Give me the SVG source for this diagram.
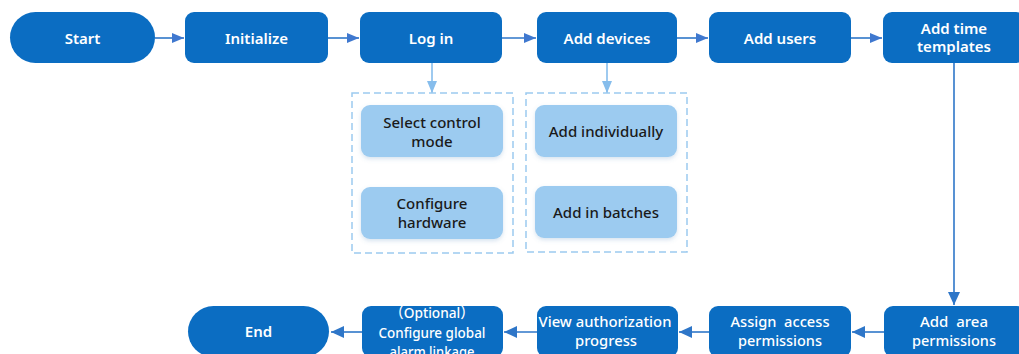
<svg xmlns="http://www.w3.org/2000/svg" width="1019" height="354" viewBox="0 0 1019 354">
<style>
.n{fill:#0b6dc2}
.t{font-family:"Noto Sans","Liberation Sans",sans-serif;font-size:15px;font-weight:600;fill:#ffffff;text-anchor:middle}
.b{font-family:"Noto Sans","Liberation Sans","Noto Sans CJK SC",sans-serif;font-size:15px;font-weight:500;fill:#ffffff;text-anchor:middle}
.l{fill:#9ccbf0;filter:url(#sh)}
.lt{font-family:"Noto Sans","Liberation Sans",sans-serif;font-size:15px;font-weight:500;fill:#1a1a1a;text-anchor:middle}
.dash{fill:none;stroke:#9ccaf0;stroke-width:1.5;stroke-dasharray:7 4}
.c{fill:none;stroke:#2e76c8;stroke-width:1.6}
.cl{fill:none;stroke:#86bdec;stroke-width:1.6}
</style>
<defs>
<filter id="sh" x="-10%" y="-20%" width="120%" height="150%">
<feDropShadow dx="0" dy="2" stdDeviation="2" flood-color="#5a8fc0" flood-opacity="0.25"/>
</filter>
<marker id="a" viewBox="0 0 12 10" refX="12" refY="5" markerWidth="12" markerHeight="10" markerUnits="userSpaceOnUse" orient="auto">
<path d="M0,0 L12,5 L0,10 Z" fill="#3f78cf"/>
</marker>
<marker id="al" viewBox="0 0 12 10" refX="12" refY="5" markerWidth="12" markerHeight="10" markerUnits="userSpaceOnUse" orient="auto">
<path d="M0,0 L12,5 L0,10 Z" fill="#86bdec"/>
</marker>
<marker id="ab" viewBox="0 0 13 12" refX="13" refY="6" markerWidth="13" markerHeight="12" markerUnits="userSpaceOnUse" orient="auto">
<path d="M0,0 L13,6 L0,12 Z" fill="#2e76c8"/>
</marker>
</defs>
<g id="connectors">
<line class="c" x1="155" y1="38" x2="184" y2="38" marker-end="url(#a)"/>
<line class="c" x1="328" y1="38" x2="359" y2="38" marker-end="url(#a)"/>
<line class="c" x1="502" y1="38" x2="536" y2="38" marker-end="url(#a)"/>
<line class="c" x1="677" y1="38" x2="708" y2="38" marker-end="url(#a)"/>
<line class="c" x1="851" y1="38" x2="882" y2="38" marker-end="url(#a)"/>
<line class="cl" x1="432" y1="63" x2="432" y2="93" marker-end="url(#al)"/>
<line class="cl" x1="607" y1="63" x2="607" y2="93" marker-end="url(#al)"/>
<line class="c" x1="954" y1="63" x2="954" y2="305" marker-end="url(#ab)"/>
<line class="c" x1="884" y1="332" x2="852" y2="332" marker-end="url(#ab)"/>
<line class="c" x1="709" y1="332" x2="679" y2="332" marker-end="url(#ab)"/>
<line class="c" x1="537" y1="332" x2="504" y2="332" marker-end="url(#ab)"/>
<line class="c" x1="362" y1="332" x2="331" y2="332" marker-end="url(#ab)"/>
</g>
<g id="start"><rect class="n" x="10" y="12" width="145" height="51" rx="25.5"/><text class="t" x="82.5" y="43.5">Start</text></g>
<g id="initialize"><rect class="n" x="185" y="12" width="143" height="51" rx="9"/><text class="t" x="256.5" y="43.5">Initialize</text></g>
<g id="login"><rect class="n" x="360" y="12" width="142" height="51" rx="9"/><text class="t" x="431" y="43.5">Log in</text></g>
<g id="adddevices"><rect class="n" x="537" y="12" width="140" height="51" rx="9"/><text class="t" x="607" y="43.5">Add devices</text></g>
<g id="addusers"><rect class="n" x="709" y="12" width="142" height="51" rx="9"/><text class="t" x="780" y="43.5">Add users</text></g>
<g id="addtime"><rect class="n" x="883" y="12" width="142" height="51" rx="9"/><text class="t" x="954" y="33.5">Add time</text><text class="t" x="954" y="52">templates</text></g>
<g id="group-login"><rect class="dash" x="352" y="93" width="161" height="160"/></g>
<g id="group-devices"><rect class="dash" x="526" y="93" width="161" height="159"/></g>
<g id="selectmode"><rect class="l" x="361" y="105" width="142" height="52" rx="9"/><text class="lt" x="432" y="127.5">Select control</text><text class="lt" x="432" y="146.5">mode</text></g>
<g id="confighw"><rect class="l" x="361" y="187" width="142" height="52" rx="9"/><text class="lt" x="432" y="208.5">Configure</text><text class="lt" x="432" y="227.5">hardware</text></g>
<g id="addind"><rect class="l" x="535" y="105" width="142" height="52" rx="9"/><text class="lt" x="606" y="137">Add individually</text></g>
<g id="addbatch"><rect class="l" x="535" y="186" width="142" height="52" rx="9"/><text class="lt" x="606" y="217.5">Add in batches</text></g>
<g id="addarea"><rect class="n" x="884" y="306" width="142" height="51" rx="9"/><text class="b" x="954" y="327" textLength="68" lengthAdjust="spacingAndGlyphs" xml:space="preserve">Add  area</text><text class="b" x="954" y="346" textLength="84" lengthAdjust="spacingAndGlyphs">permissions</text></g>
<g id="assign"><rect class="n" x="709" y="306" width="142" height="51" rx="9"/><text class="b" x="780" y="327" textLength="99" lengthAdjust="spacingAndGlyphs" xml:space="preserve">Assign  access</text><text class="b" x="780" y="346" textLength="84" lengthAdjust="spacingAndGlyphs">permissions</text></g>
<g id="viewauth"><rect class="n" x="537" y="306" width="141" height="51" rx="9"/><text class="b" x="605" y="327" textLength="133" lengthAdjust="spacingAndGlyphs">View authorization</text><text class="b" x="606" y="346" textLength="62" lengthAdjust="spacingAndGlyphs">progress</text></g>
<g id="optional"><rect class="n" x="362" y="306" width="141" height="51" rx="9"/><text class="b" x="432" y="318" textLength="84" lengthAdjust="spacingAndGlyphs">（Optional）</text><text class="b" x="432" y="338" textLength="107" lengthAdjust="spacingAndGlyphs">Configure global</text><text class="b" x="432" y="357" textLength="85" lengthAdjust="spacingAndGlyphs">alarm linkage</text></g>
<g id="end"><rect class="n" x="188" y="306" width="141" height="51" rx="25.5"/><text class="t" x="258.5" y="336.5">End</text></g>
</svg>
